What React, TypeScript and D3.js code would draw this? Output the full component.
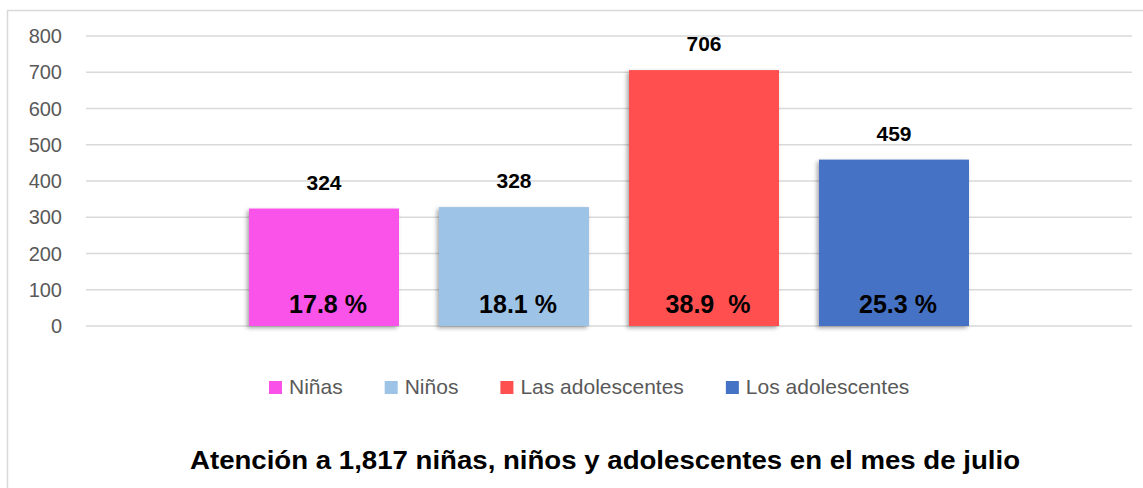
import React, { useRef, useEffect } from 'react';
import * as d3 from 'd3';

// datos del gráfico
const categories = ['Niñas', 'Niños', 'Las adolescentes', 'Los adolescentes'];
const values = [324, 328, 706, 459];
const percentLabels = ['17.8 %', '18.1 %', '38.9  %', '25.3 %'];
const colors = ['#FA52E9', '#9DC3E6', '#FF5050', '#4472C4'];
const yTicks = [0, 100, 200, 300, 400, 500, 600, 700, 800];
const title = 'Atención a 1,817 niñas, niños y adolescentes en el mes de julio';

const W = 1143;
const H = 488;
const FONT = '"Liberation Sans", Arial, sans-serif';

const App: React.FC = () => {
  const svgRef = useRef<SVGSVGElement>(null);

  useEffect(() => {
    if (!svgRef.current) return;
    const svg = d3.select(svgRef.current);
    svg.selectAll('*').remove();

    // sombra de las barras
    const defs = svg.append('defs');
    defs.append('filter')
      .attr('id', 'barShadow')
      .attr('x', '-10%').attr('y', '-10%')
      .attr('width', '120%').attr('height', '120%')
      .append('feDropShadow')
      .attr('dx', -2).attr('dy', 2)
      .attr('stdDeviation', 2)
      .attr('flood-color', '#000')
      .attr('flood-opacity', 0.35);

    // marco del gráfico
    svg.append('rect')
      .attr('x', 7.5).attr('y', 10.5)
      .attr('width', 1180).attr('height', 500)
      .attr('fill', 'none')
      .attr('stroke', '#d9d9d9')
      .attr('stroke-width', 1.5);

    const plotLeft = 86;
    const plotRight = 1132;

    const y = d3.scaleLinear().domain([0, 800]).range([326, 36]);

    const x0 = d3.scaleBand<string>()
      .domain(['julio'])
      .range([plotLeft, plotRight])
      .paddingOuter(0.2264);

    const x1 = d3.scaleBand<string>()
      .domain(categories)
      .range([0, x0.bandwidth()])
      .paddingInner(40 / 190)
      .paddingOuter(0);

    const groupX = x0('julio') ?? 0;

    // líneas de cuadrícula
    svg.append('g')
      .selectAll('line')
      .data(yTicks)
      .enter()
      .append('line')
      .attr('x1', plotLeft).attr('x2', plotRight)
      .attr('y1', d => y(d)).attr('y2', d => y(d))
      .attr('stroke', '#d9d9d9')
      .attr('stroke-width', 1.3);

    // etiquetas eje Y
    svg.append('g')
      .selectAll('text')
      .data(yTicks)
      .enter()
      .append('text')
      .attr('x', 62)
      .attr('y', d => y(d) + 7)
      .attr('text-anchor', 'end')
      .attr('font-family', FONT)
      .attr('font-size', 20)
      .attr('fill', '#595959')
      .text(d => String(d));

    // barras
    const bars = svg.append('g');
    categories.forEach((c, i) => {
      const bx = groupX + (x1(c) ?? 0);
      const bw = x1.bandwidth();
      bars.append('rect')
        .attr('x', bx)
        .attr('y', y(values[i]))
        .attr('width', bw)
        .attr('height', y(0) - y(values[i]))
        .attr('fill', colors[i])
        .attr('filter', 'url(#barShadow)');

      // valor encima
      bars.append('text')
        .attr('x', bx + bw / 2)
        .attr('y', y(values[i]) - 19)
        .attr('text-anchor', 'middle')
        .attr('font-family', FONT)
        .attr('font-weight', 'bold')
        .attr('font-size', 21)
        .attr('fill', '#000')
        .text(String(values[i]));

      // porcentaje dentro
      bars.append('text')
        .attr('x', bx + bw / 2 + 4)
        .attr('y', y(0) - 13)
        .attr('text-anchor', 'middle')
        .attr('font-family', FONT)
        .attr('font-weight', 'bold')
        .attr('font-size', 25)
        .attr('fill', '#000')
        .style('white-space', 'pre')
        .text(percentLabels[i]);
    });

    // leyenda
    const legend = svg.append('g');
    const items = categories.map((c, i) => {
      const g = legend.append('g');
      g.append('rect')
        .attr('x', 0).attr('y', -13)
        .attr('width', 13).attr('height', 13)
        .attr('fill', colors[i]);
      const t = g.append('text')
        .attr('x', 20).attr('y', 0)
        .attr('font-family', FONT)
        .attr('font-size', 21)
        .attr('fill', '#595959')
        .text(c);
      const tw = (t.node() as SVGTextElement).getComputedTextLength();
      return { g, w: 20 + tw };
    });
    const gap = 42;
    let lx = 269;
    items.forEach(it => {
      it.g.attr('transform', `translate(${lx},394)`);
      lx += it.w + gap;
    });

    // título
    svg.append('text')
      .attr('x', 605)
      .attr('y', 469)
      .attr('text-anchor', 'middle')
      .attr('font-family', FONT)
      .attr('font-weight', 'bold')
      .attr('font-size', 25)
      .attr('fill', '#000')
      .attr('textLength', 830)
      .attr('lengthAdjust', 'spacingAndGlyphs')
      .text(title);
  }, []);

  return (
    <svg
      ref={svgRef}
      width={W}
      height={H}
      style={{ position: 'absolute', left: 0, top: 0, background: '#fff', display: 'block' }}
    />
  );
};

export default App;
